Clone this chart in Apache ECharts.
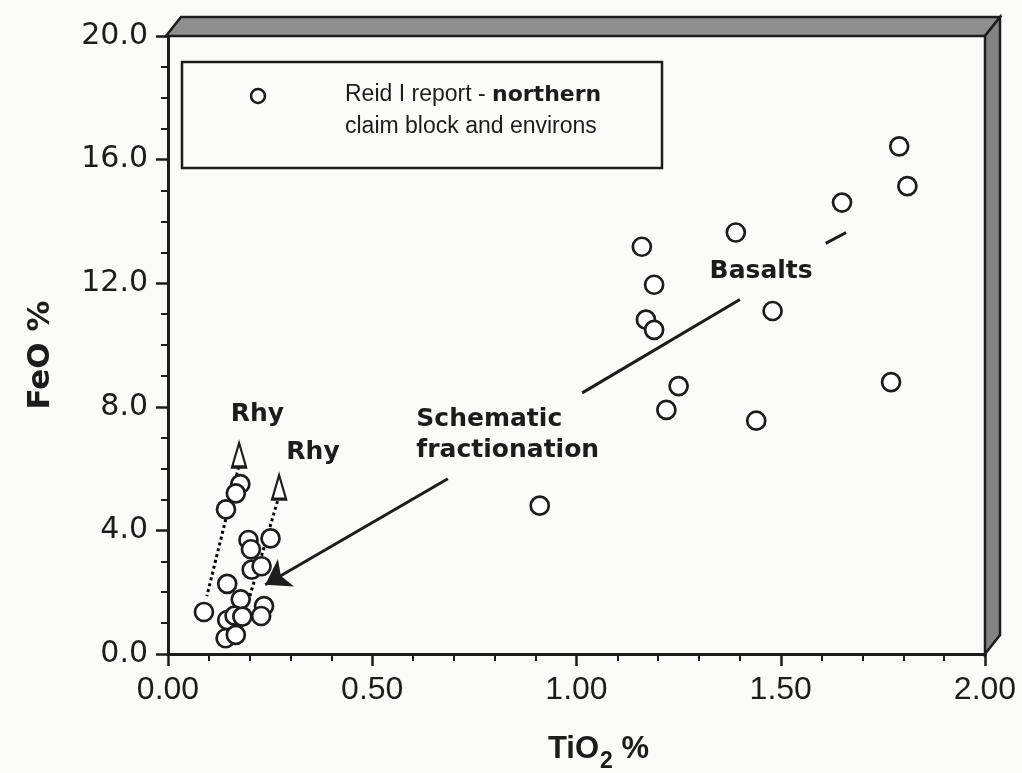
<!DOCTYPE html>
<html>
<head>
<meta charset="utf-8">
<title>FeO vs TiO2</title>
<script src="https://cdn.jsdelivr.net/npm/echarts@6/dist/echarts.min.js"></script>
<style>
  html, body { margin: 0; padding: 0; background: #fafaf8; }
  #chart { width: 1022px; height: 773px; }
</style>
</head>
<body>
<div id="chart"></div>
<script>
// Reid I report - northern claim block samples (wt %)
const basaltTiO2 = [0.91, 1.16, 1.19, 1.17, 1.19, 1.25, 1.22, 1.44, 1.48, 1.39, 1.65, 1.79, 1.81, 1.77];
const basaltFeO  = [4.80, 13.18, 11.95, 10.82, 10.49, 8.67, 7.90, 7.55, 11.10, 13.64, 14.61, 16.43, 15.14, 8.80];

const felsicTiO2 = [0.177, 0.166, 0.142, 0.197, 0.203, 0.251, 0.205, 0.229, 0.145, 0.178, 0.088, 0.235, 0.228, 0.145, 0.163, 0.182, 0.141, 0.166];
const felsicFeO  = [5.50, 5.20, 4.68, 3.69, 3.39, 3.74, 2.73, 2.84, 2.27, 1.77, 1.36, 1.55, 1.23, 1.10, 1.24, 1.21, 0.51, 0.62];

// rhyolite end members and their dotted trends
const rhyTiO2 = [0.174, 0.272];
const rhyFeO  = [6.44, 5.40];
const rhyTrendA = [[0.173, 6.06], [0.095, 1.87]];
const rhyTrendB = [[0.268, 4.95], [0.195, 1.63]];

// schematic fractionation trend, broken around its labels
const fractSegments = [
  [[1.660, 13.64], [1.610, 13.29]],
  [[1.400, 11.47], [1.014, 8.45]],
  [[0.685, 5.67], [0.238, 2.24]]
];

// annotation anchors
const notes = [
  { text: 'Rhy', at: [0.219, 7.74], align: 'center' },
  { text: 'Rhy', at: [0.355, 6.52], align: 'center' },
  { text: 'Schematic\nfractionation', at: [0.608, 7.09], align: 'left' },
  { text: 'Basalts', at: [1.452, 12.37], align: 'center' }
];

const xTickLabels = ['0.00', '0.50', '1.00', '1.50', '2.00'];
const yTickLabels = ['0.0', '4.0', '8.0', '12.0', '16.0', '20.0'];

const INK = '#1c1c1c';

const samplePoints = basaltTiO2.map((x, i) => [x, basaltFeO[i]])
  .concat(felsicTiO2.map((x, i) => [x, felsicFeO[i]]));

const option = {
  animation: false,
  backgroundColor: '#fafaf8',
  grid: { left: 168, top: 36, right: 37, bottom: 119, containLabel: false, outerBoundsMode: 'none' },
  xAxis: {
    type: 'value', min: 0, max: 2, interval: 0.5,
    axisLine: { show: true, onZero: false, lineStyle: { color: INK, width: 3 } },
    axisTick: { show: true, length: 12, lineStyle: { color: INK, width: 2.5 } },
    minorTick: { show: true, splitNumber: 5, length: 7, lineStyle: { color: INK, width: 2 } },
    splitLine: { show: false },
    axisLabel: {
      margin: 20, color: INK, fontSize: 32, fontFamily: 'Liberation Sans',
      formatter: (v, i) => xTickLabels[i]
    },
    name: '{a|TiO}{s|2}{a| %}',
    nameLocation: 'middle', nameGap: 72,
    nameTextStyle: {
      padding: [0, 0, 0, 44],
      rich: {
        a: { fontSize: 31, fontWeight: 'bold', fontFamily: 'Liberation Sans', color: INK },
        s: { fontSize: 23, fontWeight: 'bold', fontFamily: 'Liberation Sans', color: INK, padding: [24, 0, 0, 1] }
      }
    }
  },
  yAxis: {
    type: 'value', min: 0, max: 20, interval: 4,
    axisLine: { show: true, onZero: false, lineStyle: { color: INK, width: 3 } },
    axisTick: { show: true, length: 12, lineStyle: { color: INK, width: 2.5 } },
    minorTick: { show: true, splitNumber: 4, length: 7, lineStyle: { color: INK, width: 2 } },
    splitLine: { show: false },
    axisLabel: {
      margin: 20, color: INK, fontSize: 30, fontFamily: 'DejaVu Sans',
      formatter: (v, i) => yTickLabels[i]
    },
    name: 'FeO %',
    nameLocation: 'middle', nameGap: 112, nameRotate: 90,
    nameTextStyle: { fontSize: 31, fontWeight: 'bold', fontFamily: 'DejaVu Sans', color: INK, padding: [0, 20, 0, 0] }
  },
  series: [
    {
      name: 'fractionation',
      type: 'lines', coordinateSystem: 'cartesian2d', z: 3,
      polyline: false,
      lineStyle: { color: INK, width: 3, opacity: 1 },
      data: fractSegments.map((seg, i) => ({
        coords: seg,
        symbol: i === fractSegments.length - 1 ? ['none', 'arrow'] : ['none', 'none'],
        symbolSize: [13, 24]
      }))
    },
    {
      name: 'rhyTrendA', type: 'line', data: rhyTrendA, symbol: 'none', z: 3,
      lineStyle: { color: '#000000', width: 3, type: [3, 3], opacity: 1 }
    },
    {
      name: 'rhyTrendB', type: 'line', data: rhyTrendB, symbol: 'none', z: 3,
      lineStyle: { color: '#000000', width: 3, type: [3, 3], opacity: 1 }
    },
    {
      name: 'Rhy', type: 'scatter', z: 4,
      data: rhyTiO2.map((x, i) => [x, rhyFeO[i]]),
      symbol: 'triangle', symbolSize: [14, 24],
      itemStyle: { color: '#ffffff', borderColor: INK, borderWidth: 2.6, opacity: 1 }
    },
    {
      name: 'Reid I report', type: 'scatter', z: 5,
      data: samplePoints,
      symbol: 'circle', symbolSize: 18,
      itemStyle: { color: '#ffffff', borderColor: INK, borderWidth: 2.7, opacity: 1 }
    },
    {
      name: 'notes', type: 'scatter', z: 6, silent: true,
      symbolSize: 0,
      itemStyle: { opacity: 1 },
      data: notes.map(n => ({
        value: n.at,
        label: {
          show: true, position: 'inside', formatter: n.text, align: n.align,
          fontSize: 25, fontWeight: 'bold', fontFamily: 'DejaVu Sans', color: INK, lineHeight: 31, opacity: 1
        }
      }))
    }
  ]
};

const chart = echarts.init(document.getElementById('chart'), null, { renderer: 'canvas' });
chart.setOption(option);

// box corners from the axes, used for the raised frame
const lo = chart.convertToPixel({ gridIndex: 0 }, [0, 0]);
const hi = chart.convertToPixel({ gridIndex: 0 }, [2, 20]);
const depthX = 15, depthY = -19;
const frameStroke = { stroke: INK, lineWidth: 2.5, lineJoin: 'miter' };

chart.setOption({
  graphic: [
    {
      id: 'topFace', type: 'polygon', z: 10,
      shape: { points: [[lo[0] - 2, hi[1]], [hi[0], hi[1]], [hi[0] + depthX, hi[1] + depthY], [lo[0] - 2 + depthX, hi[1] + depthY]] },
      style: Object.assign({ fill: '#8f8f8f' }, frameStroke)
    },
    {
      id: 'rightFace', type: 'polygon', z: 10,
      shape: { points: [[hi[0], hi[1]], [hi[0], lo[1]], [hi[0] + depthX, lo[1] + depthY], [hi[0] + depthX, hi[1] + depthY]] },
      style: Object.assign({ fill: '#838383' }, frameStroke)
    },
    {
      id: 'legendBox', type: 'rect', z: 10,
      shape: { x: 182, y: 62, width: 480, height: 106 },
      style: { fill: '#fcfcfb', stroke: INK, lineWidth: 2.5 }
    },
    {
      id: 'legendMark', type: 'circle', z: 11,
      shape: { cx: 258, cy: 96, r: 7 },
      style: { fill: '#fcfcfb', stroke: INK, lineWidth: 2.6 }
    },
    {
      id: 'legendText', type: 'text', z: 11,
      x: 345, y: 79,
      style: {
        text: '{r|Reid I report - }{b|northern}\n{r|claim block and environs}',
        rich: {
          r: { fontSize: 23, fontFamily: 'Liberation Sans', fill: INK, lineHeight: 32 },
          b: { fontSize: 22, fontWeight: 'bold', fontFamily: 'DejaVu Sans', fill: INK, lineHeight: 32 }
        }
      }
    }
  ]
});
</script>
</body>
</html>
